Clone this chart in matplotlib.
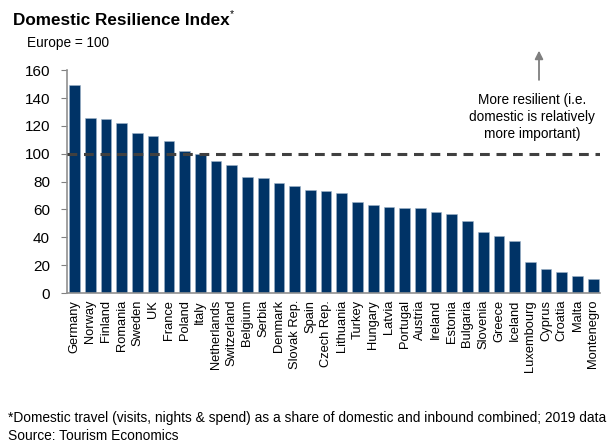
import matplotlib.pyplot as plt

countries = ["Germany", "Norway", "Finland", "Romania", "Sweden", "UK", "France",
             "Poland", "Italy", "Netherlands", "Switzerland", "Belgium", "Serbia",
             "Denmark", "Slovak Rep.", "Spain", "Czech Rep.", "Lithuania", "Turkey",
             "Hungary", "Latvia", "Portugal", "Austria", "Ireland", "Estonia",
             "Bulgaria", "Slovenia", "Greece", "Iceland", "Luxembourg", "Cyprus",
             "Croatia", "Malta", "Montenegro"]
index = [149, 126, 125, 122, 115, 113, 109,
         102, 100, 95, 92, 83, 82.5,
         79, 77, 74, 73, 72, 65.5,
         63, 62, 61, 61, 58, 57,
         52, 44, 41, 37.5, 22, 17.5,
         15, 12, 10]
europe = 100

plt.rcParams['font.family'] = ['Liberation Sans', 'DejaVu Sans']

fig = plt.figure(figsize=(6.09, 4.44), dpi=100)
ax = fig.add_axes([0.1095, 0.34, 0.8757, 0.502])

x = range(len(countries))
ax.bar(x, index, width=0.68, color='#003366', edgecolor='#9fb3c8', linewidth=0.4, zorder=2)
ax.axhline(europe, color='#404040', linestyle=(0, (3.2, 2.2)), linewidth=2.2, zorder=3)

ax.set_xlim(-0.5, 33.43)
ax.set_ylim(0, 160)
ax.set_yticks(range(0, 161, 20))
ax.set_xticks(list(x))
ax.set_xticklabels(countries, rotation=90, fontsize=9.3)
ax.tick_params(axis='x', length=0, pad=5)
ax.tick_params(axis='y', length=4, color='#808080', labelsize=11, pad=8)
for side in ['top', 'right']:
    ax.spines[side].set_visible(False)
for side in ['left', 'bottom']:
    ax.spines[side].set_color('#909090')
    ax.spines[side].set_linewidth(1.2)

# arrow and note for the "more resilient" side
ax.annotate('', xy=(29.55, 176), xytext=(29.55, 151),
            arrowprops=dict(arrowstyle='-|>', color='#7f7f7f', lw=1.3,
                            mutation_scale=12),
            annotation_clip=False)
ax.text(29.1, 126.5, 'More resilient (i.e.\ndomestic is relatively\nmore important)',
        ha='center', va='center', fontsize=9.8, linespacing=1.3)

fig.text(0.021, 0.953, 'Domestic Resilience Index', fontsize=12.3, fontweight='bold',
         va='center')
fig.text(0.378, 0.968, '*', fontsize=7.5, va='center')
fig.text(0.044, 0.903, 'Europe = 100', fontsize=9.8, va='center')
fig.text(0.013, 0.058, '*Domestic travel (visits, nights & spend) as a share of domestic '
         'and inbound combined; 2019 data', fontsize=9.9, va='center')
fig.text(0.013, 0.018, 'Source: Tourism Economics', fontsize=9.9, va='center')

fig.savefig('out.png', dpi=100)
